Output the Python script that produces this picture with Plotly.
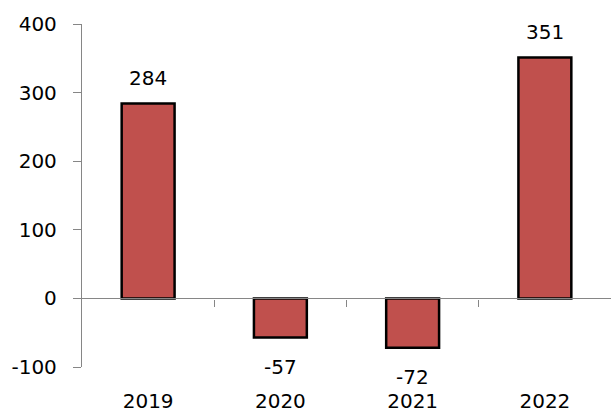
import plotly.graph_objects as go

categories = ["2019", "2020", "2021", "2022"]
values = [284, -57, -72, 351]
y_ticks = [-100, 0, 100, 200, 300, 400]
y_tick_text = ["-100", "0", "100", "200", "300", "400"]

FONT = "DejaVu Sans"
FS = 20
x_idx = list(range(len(categories)))

fig = go.Figure()
fig.add_trace(go.Bar(
    x=x_idx, y=values, width=0.4,
    marker=dict(color="#C0504D", line=dict(color="black", width=2.5)),
    hoverinfo="skip", xaxis="x", yaxis="y",
))

for i, v in enumerate(values):
    fig.add_annotation(
        x=i, y=v, xref="x", yref="y", text=str(v), showarrow=False,
        yshift=26 if v >= 0 else -29,
        font=dict(family=FONT, size=FS, color="black"),
    )

fig.update_layout(
    width=611, height=412,
    margin=dict(l=82, r=0, t=24, b=45, autoexpand=False),
    paper_bgcolor="white", plot_bgcolor="white",
    showlegend=False,
    font=dict(family=FONT, size=FS, color="black"),
    xaxis=dict(
        range=[-0.5, 3.5], tickvals=x_idx, ticktext=categories,
        showline=False, showgrid=False, zeroline=False, automargin=False,
        ticks="outside", ticklen=16, tickcolor="rgba(0,0,0,0)",
        tickfont=dict(family=FONT, size=FS, color="black"),
    ),
    xaxis2=dict(
        range=[-0.5, 3.5], overlaying="x", anchor="free", position=(0 - (-100)) / 500,
        side="bottom", automargin=False,
        tickvals=[0.5, 1.5, 2.5], showticklabels=False,
        showline=True, linecolor="#868686", linewidth=1.3,
        ticks="outside", ticklen=7, tickcolor="#868686", tickwidth=1.3,
        showgrid=False, zeroline=False,
    ),
    yaxis=dict(
        range=[-100, 400], tickvals=y_ticks, ticktext=y_tick_text, automargin=False,
        showline=True, linecolor="#868686", linewidth=1.3,
        ticks="outside", ticklen=8, tickcolor="#868686", tickwidth=1.3,
        ticklabelstandoff=12,
        showgrid=False, zeroline=False,
        tickfont=dict(family=FONT, size=FS, color="black"),
    ),
)
fig.add_trace(go.Scatter(x=[None], y=[None], xaxis="x2", yaxis="y", hoverinfo="skip"))

fig.write_html(
    "out.html",
    config={"displayModeBar": False},
    post_script="document.body.style.margin='0px';document.body.style.overflow='hidden';",
)
